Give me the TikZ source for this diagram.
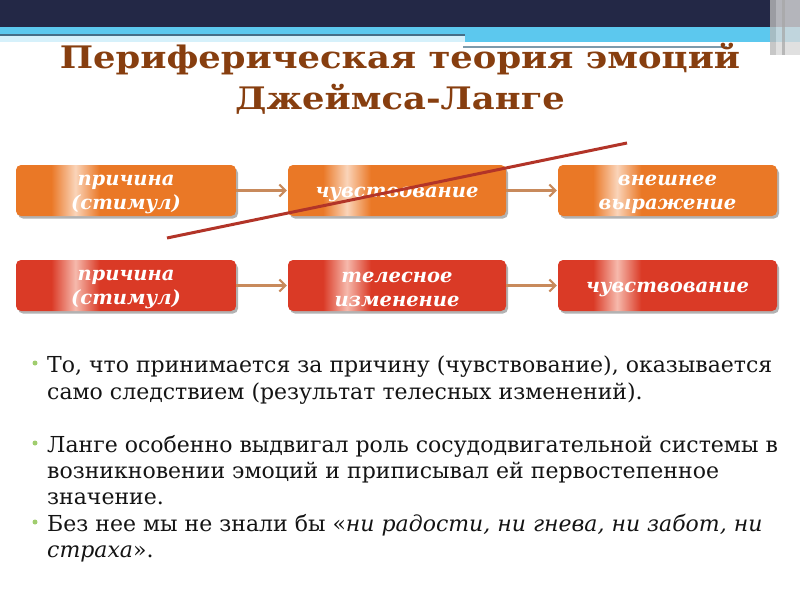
\documentclass[tikz,border=0pt]{standalone}
\usepackage{fontspec}
\setmainfont{DejaVu Serif}
\newfontfamily\titlefont[FakeStretch=1.14]{DejaVu Serif}
\usetikzlibrary{arrows.meta}
\definecolor{navy}{RGB}{35,40,70}
\definecolor{skyb}{RGB}{92,200,238}
\definecolor{grayln}{RGB}{70,110,135}
\definecolor{titlebrown}{RGB}{135,62,15}
\definecolor{orA}{RGB}{234,120,38}
\definecolor{orL}{RGB}{250,212,185}
\definecolor{rdA}{RGB}{218,58,38}
\definecolor{rdL}{RGB}{246,185,172}
\definecolor{arrowc}{RGB}{200,138,92}
\definecolor{crossc}{RGB}{178,52,40}
\definecolor{bulletg}{RGB}{160,205,110}
\definecolor{bodytext}{RGB}{20,20,20}
\pgfdeclarehorizontalshading{orstreak}{100bp}{color(0bp)=(orA); color(33bp)=(orA); color(38.5bp)=(orL); color(44bp)=(orA); color(100bp)=(orA)}
\pgfdeclarehorizontalshading{rdstreak}{100bp}{color(0bp)=(rdA); color(33bp)=(rdA); color(38.5bp)=(rdL); color(44bp)=(rdA); color(100bp)=(rdA)}
\tikzset{
  box/.style={rectangle, rounded corners=5pt, minimum width=220pt, minimum height=51pt,
    inner sep=0pt},
  orbox/.style={box, shade, shading=orstreak},
  rdbox/.style={box, shade, shading=rdstreak},
  boxtext/.style={inner sep=0pt, align=center, text=white, yshift=-4pt,
    font=\fontsize{19.5}{23.5}\selectfont\bfseries\itshape},
  boxshadow/.style={fill=gray!60, rounded corners=5pt},
  flowarrow/.style={draw=arrowc, line width=3.5pt,
    -{Straight Barb[length=6pt,width=12pt,line width=2pt]}, shorten >=1pt},
  bodyline/.style={anchor=base west, inner sep=0pt, text=bodytext,
    font=\fontsize{22}{26.5}\selectfont},
  bulletdot/.style={circle, fill=bulletg, inner sep=0pt, minimum size=5pt},
  titletext/.style={anchor=base, inner sep=0pt, text=titlebrown,
    font=\fontsize{31}{40}\titlefont\bfseries}
}
\begin{document}
\begin{tikzpicture}[x=1pt,y=-1pt]
\useasboundingbox (0,0) rectangle (800,600);
\fill[white] (0,0) rectangle (800,600);
% header
\fill[navy] (0,0) rectangle (800,27);
\fill[skyb] (0,27) rectangle (800,42);
\fill[grayln] (0,34) rectangle (465,36);
\fill[white!75!skyb] (0,36) rectangle (465,42);
\fill[white] (0,42) rectangle (800,48);
\fill[grayln!70] (463,45.5) rectangle (727,47.5);
\fill[gray!55,opacity=0.8] (770,0) rectangle (776,55);
\fill[gray!30,opacity=0.8] (776,0) rectangle (800,55);
\fill[gray!70,opacity=0.7] (782,0) rectangle (785,55);
% title
\node[titletext] (t1) at (400,68) {Периферическая теория эмоций};
\node[titletext] (t2) at (400,109) {Джеймса-Ланге};
% box shadows
\fill[boxshadow] (18,168) rectangle (238,218.5);
\fill[boxshadow] (290,168) rectangle (508,218.5);
\fill[boxshadow] (560,168) rectangle (779,218.5);
\fill[boxshadow] (18,263) rectangle (238,313.5);
\fill[boxshadow] (290,263) rectangle (508,313.5);
\fill[boxshadow] (560,263) rectangle (779,313.5);
% boxes row 1
\node[orbox] (a1) at (126,190.5) {};
\node[orbox, minimum width=218pt] (a2) at (397,190.5) {};
\node[orbox, minimum width=219pt] (a3) at (667.5,190.5) {};
% boxes row 2
\node[rdbox] (b1) at (126,285.5) {};
\node[rdbox, minimum width=218pt] (b2) at (397,285.5) {};
\node[rdbox, minimum width=219pt] (b3) at (667.5,285.5) {};
% box texts
\node[boxtext] (a1t) at (a1.center) {причина\\(стимул)};
\node[boxtext] (a2t) at (a2.center) {чувствование};
\node[boxtext] (a3t) at (a3.center) {внешнее\\выражение};
\node[boxtext] (b1t) at (b1.center) {причина\\(стимул)};
\node[boxtext] (b2t) at (b2.center) {телесное\\изменение};
\node[boxtext] (b3t) at (b3.center) {чувствование};
% arrows
\draw[flowarrow] (a1.east) -- (a2.west);
\draw[flowarrow] (a2.east) -- (a3.west);
\draw[flowarrow] (b1.east) -- (b2.west);
\draw[flowarrow] (b2.east) -- (b3.west);
% crossing line
\coordinate (c1) at (167,238);
\coordinate (c2) at (627,143);
\draw[crossc, line width=3pt] (c1) -- (c2);
% bullets
\node[bulletdot] (d1) at (35,363) {};
\node[bulletdot] (d2) at (35,443) {};
\node[bulletdot] (d3) at (35,522) {};
\node[bodyline] (l1) at (47,372) {То, что принимается за причину (чувствование), оказывается};
\node[bodyline] (l2) at (47,399) {само следствием (результат телесных изменений).};
\node[bodyline] (l3) at (47,452) {Ланге особенно выдвигал роль сосудодвигательной системы в};
\node[bodyline] (l4) at (47,478) {возникновении эмоций и приписывал ей первостепенное};
\node[bodyline] (l5) at (47,504) {значение.};
\node[bodyline] (l6) at (47,531) {Без нее мы не знали бы «\textit{ни радости, ни гнева, ни забот, ни}};
\node[bodyline] (l7) at (47,557) {\textit{страха}».};
\end{tikzpicture}
\end{document}
